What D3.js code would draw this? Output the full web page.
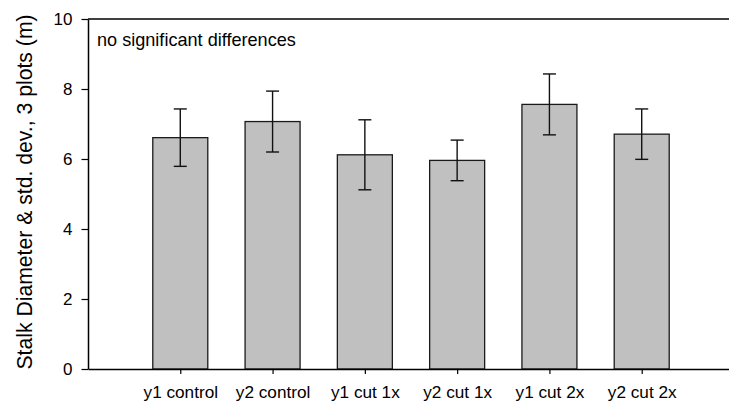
<!DOCTYPE html>
<html>
<head>
<meta charset="utf-8">
<script src="https://cdn.jsdelivr.net/npm/d3@7"></script>
<style>
  html, body { margin: 0; padding: 0; background: #fff; }
  svg { display: block; font-family: "Liberation Sans", Arial, sans-serif; }
</style>
</head>
<body>
<svg id="chart" width="729" height="404"></svg>
<script>
const categories = ["y1 control", "y2 control", "y1 cut 1x", "y2 cut 1x", "y1 cut 2x", "y2 cut 2x"];
const means = [6.61, 7.07, 6.12, 5.96, 7.56, 6.71];
const stdDevs = [0.82, 0.87, 1.00, 0.58, 0.87, 0.72];
const yTicks = [0, 2, 4, 6, 8, 10];
const yLabel = "Stalk Diameter & std. dev., 3 plots (m)";
const note = "no significant differences";

const svg = d3.select("#chart");
const plotLeft = 88, plotRight = 734, plotTop = 19, plotBottom = 369;

const x = d3.scaleLinear().domain([0, categories.length + 1]).range([plotLeft, plotRight]);
const y = d3.scaleLinear().domain([0, 10]).range([plotBottom, plotTop]);
const barW = 55, capW = 13;

const data = categories.map((c, i) => ({ c, i, m: means[i], sd: stdDevs[i] }));

// bars
svg.append("g").selectAll("rect").data(data).join("rect")
  .attr("x", d => x(d.i + 1) - barW / 2)
  .attr("y", d => y(d.m))
  .attr("width", barW)
  .attr("height", d => y(0) - y(d.m))
  .attr("fill", "#c0c0c0")
  .attr("stroke", "#1a1a1a")
  .attr("stroke-width", 1.3);

// error bars
const eb = svg.append("g").attr("stroke", "#111").attr("stroke-width", 1.4).attr("fill", "none");
data.forEach(d => {
  const cx = x(d.i + 1);
  eb.append("line").attr("x1", cx).attr("x2", cx).attr("y1", y(d.m + d.sd)).attr("y2", y(d.m - d.sd));
  eb.append("line").attr("x1", cx - capW / 2).attr("x2", cx + capW / 2).attr("y1", y(d.m + d.sd)).attr("y2", y(d.m + d.sd));
  eb.append("line").attr("x1", cx - capW / 2).attr("x2", cx + capW / 2).attr("y1", y(d.m - d.sd)).attr("y2", y(d.m - d.sd));
});

// y axis
const yAxis = svg.append("g").attr("transform", `translate(${plotLeft},0)`)
  .call(d3.axisLeft(y).tickValues(yTicks).tickFormat(d3.format("d")).tickSize(6.5).tickPadding(9).tickSizeOuter(0));
yAxis.select(".domain").attr("stroke", "#000").attr("stroke-width", 1.5);
yAxis.selectAll(".tick line").attr("stroke", "#000").attr("stroke-width", 1.2);
yAxis.selectAll(".tick text").attr("font-size", 17).attr("fill", "#000").attr("font-family", "Liberation Sans, Arial, sans-serif");

// x axis
const xAxis = svg.append("g").attr("transform", `translate(0,${plotBottom})`)
  .call(d3.axisBottom(x).tickValues(d3.range(1, categories.length + 1)).tickFormat(i => categories[i - 1]).tickSize(5).tickPadding(12).tickSizeOuter(0));
xAxis.select(".domain").attr("stroke", "#000").attr("stroke-width", 1.5);
xAxis.selectAll(".tick line").attr("stroke", "#000").attr("stroke-width", 1.2);
xAxis.selectAll(".tick text").attr("font-size", 17.2).attr("fill", "#000").attr("font-family", "Liberation Sans, Arial, sans-serif");

// top frame line
svg.append("line").attr("x1", plotLeft).attr("x2", plotRight).attr("y1", y(10)).attr("y2", y(10))
  .attr("stroke", "#000").attr("stroke-width", 1.5);

// annotation
svg.append("text").attr("x", 97).attr("y", 46).attr("font-size", 18.1).attr("fill", "#000").text(note);

// y label
svg.append("text").attr("transform", `translate(32,192) rotate(-90)`)
  .attr("text-anchor", "middle").attr("font-size", 21.2).attr("fill", "#000").text(yLabel);
</script>
</body>
</html>
